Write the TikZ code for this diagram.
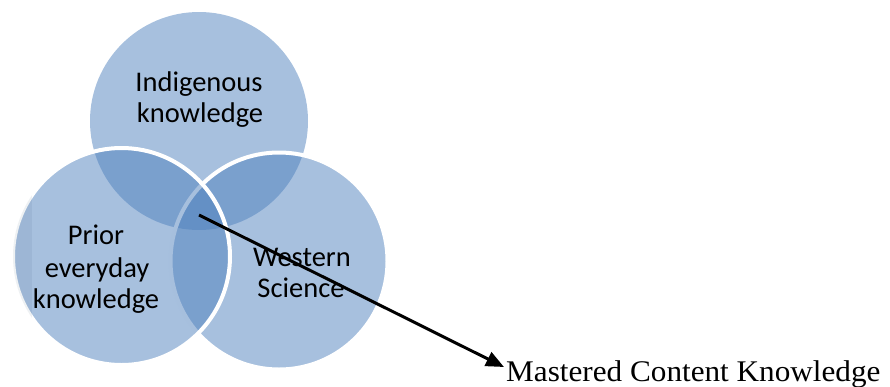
\documentclass[tikz,border=0pt]{standalone}
\usepackage{fontspec}
\usepackage{graphicx}
\setmainfont{Liberation Serif}
\newfontfamily\calib{Carlito}
\usetikzlibrary{arrows.meta}
\definecolor{acc}{RGB}{79,129,189}
\begin{document}
\begin{tikzpicture}[x=1pt,y=-1pt,
  venn/.style={fill=acc,fill opacity=0.5},
  ring/.style={draw=white,line width=4pt},
  lbl/.style={font=\calib\fontsize{28.5}{32}\selectfont,text=black,inner sep=0pt,anchor=base},
  ptr/.style={line width=3pt,-{Triangle[length=18pt,width=15pt]}},
]
\useasboundingbox (0,0) rectangle (890,386);
% circles
\fill[venn] (199,121) circle (109);
\filldraw[venn,ring] (279,261) circle (108.5);
\filldraw[venn,ring] (121.5,256.5) circle (108.5);
\begin{scope}
  \clip (121.5,256.5) circle (108.5);
  \fill[black!40!acc,fill opacity=0.08] (11,190) rectangle (32,325);
\end{scope}
% labels
\node[lbl] (ind1) at (199,91) {Indigenous};
\node[lbl] (ind2) at (200,122) {knowledge};
\node[lbl] (pri1) at (96,244) {Prior};
\node[lbl] (pri2) at (97,277) {everyday};
\node[lbl] (pri3) at (96,308) {knowledge};
\node[lbl] (wes1) at (302,266) {Western};
\node[lbl] (wes2) at (301,297) {Science};
\node[inner sep=0pt,anchor=base west,font=\fontsize{30}{34}\selectfont] (mck) at (506,381) {\scalebox{1.04}[1]{Mastered Content Knowledge}};
% arrow
\coordinate (core) at (199,215);
\coordinate (tip) at (504,367);
\draw[ptr] (core) -- (tip);
\end{tikzpicture}
\end{document}
